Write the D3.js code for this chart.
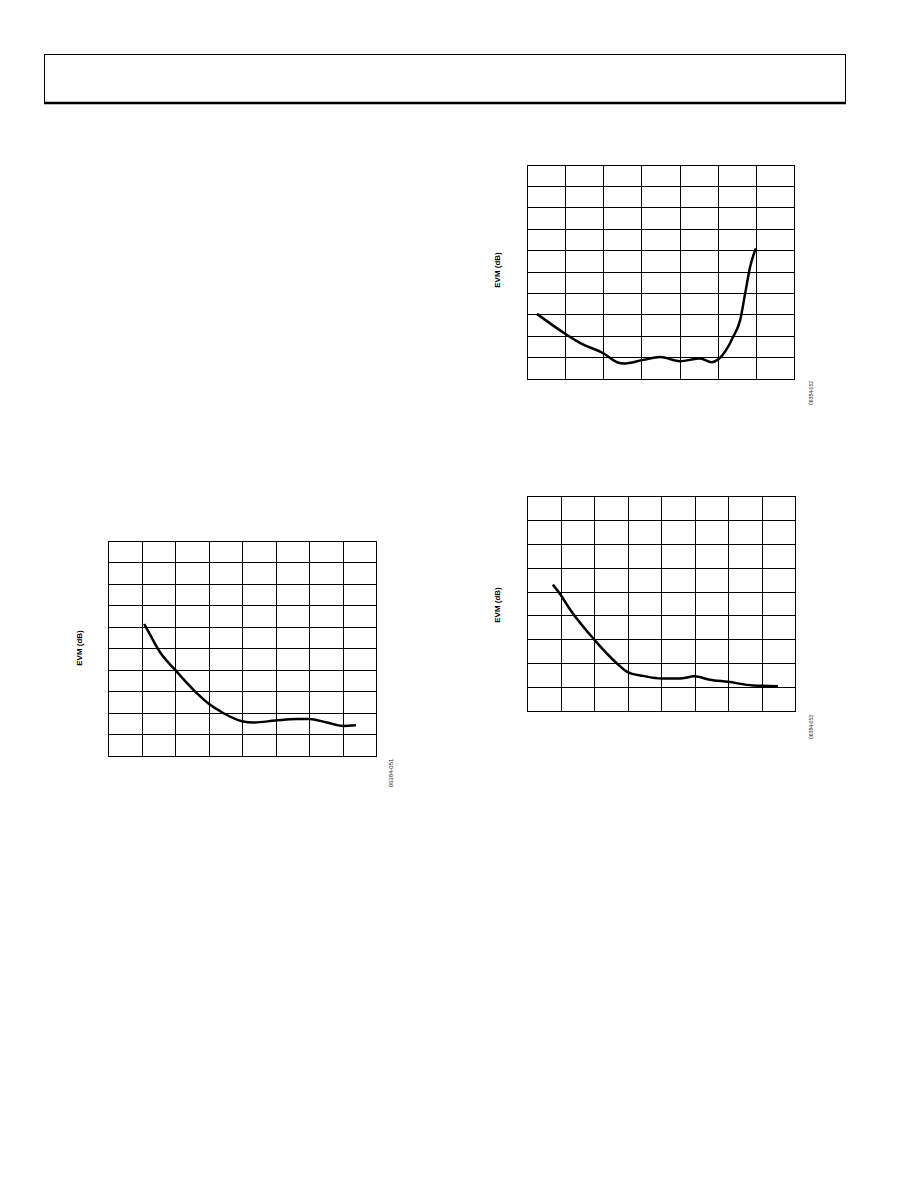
<!DOCTYPE html>
<html>
<head>
<meta charset="utf-8">
<script src="https://cdn.jsdelivr.net/npm/d3@7"></script>
<style>
  html, body { margin: 0; padding: 0; background: #fff; }
  svg { display: block; }
</style>
</head>
<body>
<svg id="page" width="918" height="1188"></svg>
<script>
// ---- Data (grid units; the reference shows no numeric tick labels) ----
const yLabel = "EVM (dB)";

// Chart A (top right)
const aX = [0.26, 1.0, 1.4, 2.0, 2.36, 2.53, 3.05, 3.49, 4.01, 4.54, 4.84, 5.02, 5.41, 5.59, 5.72, 5.85, 6.0];
const aY = [3.02, 2.09, 1.65, 1.18, 0.76, 0.70, 0.87, 1.0, 0.81, 0.93, 0.76, 0.90, 1.96, 2.74, 3.98, 5.22, 6.08];
const aTicksX = [0, 1, 2, 3, 4, 5, 6, 7];
const aTicksY = [0, 1, 2, 3, 4, 5, 6, 7, 8, 9, 10];
const aId = "06384-052";

// Chart B (bottom right)
const bX = [0.77, 0.97, 1.29, 2.0, 2.68, 3.0, 3.47, 4.02, 4.56, 5.0, 5.46, 6.0, 6.75, 7.49];
const bY = [5.29, 4.93, 4.24, 3.0, 2.0, 1.63, 1.47, 1.36, 1.36, 1.45, 1.31, 1.22, 1.07, 1.04];
const bTicksX = [0, 1, 2, 3, 4, 5, 6, 7, 8];
const bTicksY = [0, 1, 2, 3, 4, 5, 6, 7, 8, 9];
const bId = "06384-053";

// Chart C (left)
const cX = [1.08, 1.26, 1.56, 2.0, 2.65, 3.01, 3.45, 4.0, 4.34, 5.0, 5.64, 6.0, 6.53, 7.01, 7.40];
const cY = [6.13, 5.62, 4.80, 4.0, 2.91, 2.41, 1.97, 1.60, 1.54, 1.63, 1.70, 1.70, 1.54, 1.38, 1.41];
const cTicksX = [0, 1, 2, 3, 4, 5, 6, 7, 8];
const cTicksY = [0, 1, 2, 3, 4, 5, 6, 7, 8, 9, 10];
const cId = "06384-051";

const svg = d3.select("#page");

// Header box
svg.append("rect").attr("x", 44.5).attr("y", 54.5).attr("width", 801).attr("height", 48)
  .attr("fill", "none").attr("stroke", "#000").attr("stroke-width", 1);
svg.append("line").attr("x1", 44).attr("x2", 846).attr("y1", 103).attr("y2", 103)
  .attr("stroke", "#000").attr("stroke-width", 2.5);

function drawChart(cfg) {
  const { left, right, top, bottom, xs, ys, ticksX, ticksY, labelX, labelY, id, idX, idY, idSize } = cfg;
  const x = d3.scaleLinear().domain([ticksX[0], ticksX[ticksX.length - 1]]).range([left, right]);
  const y = d3.scaleLinear().domain([ticksY[0], ticksY[ticksY.length - 1]]).range([bottom, top]);
  const g = svg.append("g");

  const gx = g.append("g").attr("transform", `translate(0,${bottom})`)
    .call(d3.axisBottom(x).tickValues(ticksX).tickSize(-(bottom - top)).tickFormat(""));
  const gy = g.append("g").attr("transform", `translate(${left},0)`)
    .call(d3.axisLeft(y).tickValues(ticksY).tickSize(-(right - left)).tickFormat(""));
  [gx, gy].forEach(a => {
    a.selectAll("line").attr("stroke", "#000").attr("stroke-width", 1).attr("shape-rendering", "crispEdges");
    a.select(".domain").attr("stroke", "#000").attr("shape-rendering", "crispEdges");
  });

  const pts = xs.map((v, i) => [v, ys[i]]);
  const line = d3.line().x(d => x(d[0])).y(d => y(d[1])).curve(d3.curveMonotoneX);
  g.append("path").datum(pts).attr("d", line)
    .attr("fill", "none").attr("stroke", "#000").attr("stroke-width", 2.5)
    .attr("stroke-linejoin", "round").attr("stroke-linecap", "butt");

  g.append("text").attr("transform", `translate(${labelX},${labelY}) rotate(-90)`)
    .attr("text-anchor", "middle").attr("font-family", "Liberation Sans, Arial, sans-serif")
    .attr("font-weight", "bold").attr("font-size", 8).attr("fill", "#000").text(yLabel);

  g.append("text").attr("transform", `translate(${idX},${idY}) rotate(-90)`)
    .attr("text-anchor", "middle").attr("font-family", "Liberation Sans, Arial, sans-serif")
    .attr("font-size", idSize).attr("fill", "#222").text(id);
}

drawChart({ left: 527, right: 794, top: 164.5, bottom: 378.5, xs: aX, ys: aY,
  ticksX: aTicksX, ticksY: aTicksY, labelX: 499.5, labelY: 270, id: aId, idX: 813, idY: 393, idSize: 5 });
drawChart({ left: 527, right: 795, top: 496, bottom: 711, xs: bX, ys: bY,
  ticksX: bTicksX, ticksY: bTicksY, labelX: 499.5, labelY: 605, id: bId, idX: 813, idY: 727, idSize: 5 });
drawChart({ left: 108, right: 376, top: 541, bottom: 755.5, xs: cX, ys: cY,
  ticksX: cTicksX, ticksY: cTicksY, labelX: 82, labelY: 648, id: cId, idX: 393, idY: 773, idSize: 6 });
</script>
</body>
</html>
